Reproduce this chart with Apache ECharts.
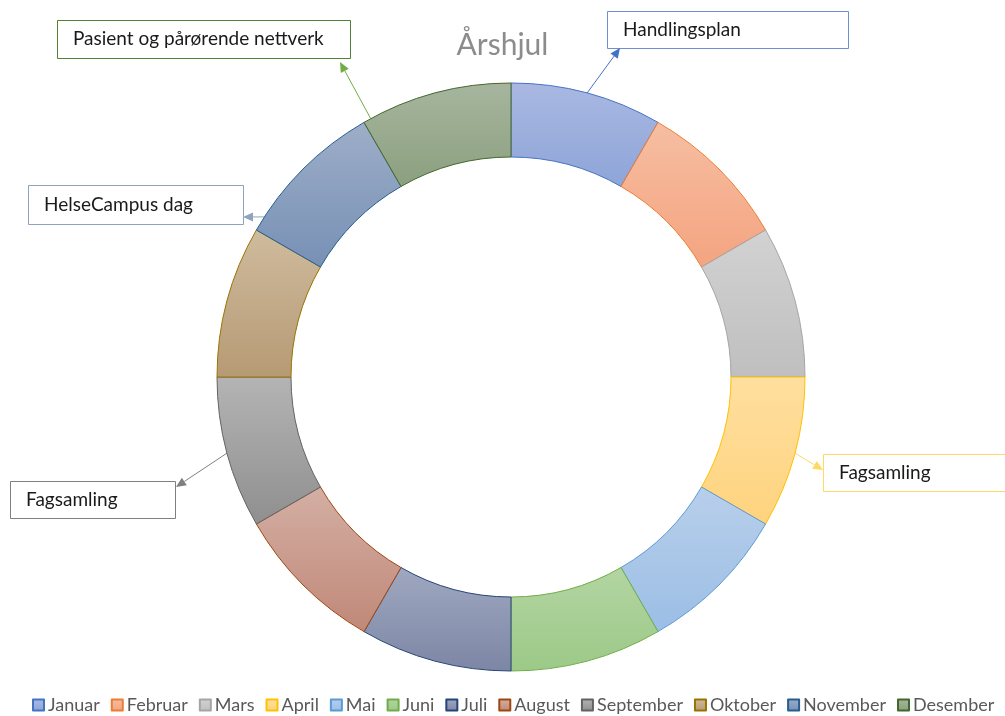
<!DOCTYPE html>
<html lang="no">
<head>
    <meta charset="UTF-8">
    <title>Årshjul</title>
    <script src="https://cdn.jsdelivr.net/npm/echarts@6/dist/echarts.min.js"></script>
    <style>
        html, body { margin: 0; padding: 0; background: #fff; }
        #chart { width: 1005px; height: 716px; }
    </style>
</head>
<body>
<div id="chart"></div>
<script type="text/javascript">
    // data
    var months = ['Januar', 'Februar', 'Mars', 'April', 'Mai', 'Juni', 'Juli', 'August', 'September', 'Oktober', 'November', 'Desember'];
    var values = [1, 1, 1, 1, 1, 1, 1, 1, 1, 1, 1, 1];
    var noteTexts = ['Handlingsplan', 'Fagsamling', 'Fagsamling', 'HelseCampus dag', 'Pasient og pårørende nettverk'];
    var noteMonths = [0, 3, 8, 10, 11];

    // styles
    var borderColors = ['#4472C4', '#ED7D31', '#A5A5A5', '#FFC000', '#5B9BD5', '#70AD47', '#264478', '#9E480E', '#636363', '#997300', '#255E91', '#43682B'];
    var topColors = ['#A9B8E2', '#F6BEA2', '#D2D2D2', '#FFDF9F', '#B8CFEB', '#B3D5A2', '#A0A8C0', '#D4AFA4', '#B4B4B4', '#CFBB9E', '#9EAEC8', '#A7B59E'];
    var bottomColors = ['#8EA5D8', '#F4A480', '#BFBFBF', '#FED37E', '#9BBEE5', '#9CC988', '#7C86A5', '#C08878', '#8F8F8F', '#B69A74', '#7690B5', '#8BA07F'];

    var CX = 511, CY = 377, R0 = 220, R1 = 294;
    var FONT = 'Lato, "Open Sans", sans-serif';

    var pieData = months.map(function (m, i) {
        return {
            name: m,
            value: values[i],
            itemStyle: {
                color: new echarts.graphic.LinearGradient(0, 0, 0, 1, [
                    {offset: 0, color: topColors[i]},
                    {offset: 1, color: bottomColors[i]}
                ]),
                borderColor: borderColors[i],
                borderWidth: 1
            }
        };
    });

    // callout boxes + arrows
    var notes = [
        {frac: 0.5, box: [607, 11, 241, 37], tip: [620, 48], border: '#6F8FD2', arrow: '#4472C4'},
        {frac: 0.5, box: [823, 454, 190, 37], tip: [823, 470], border: '#FFD966', arrow: '#FFD966'},
        {frac: 0.5, box: [10, 481, 165, 37], tip: [176, 487], border: '#7F7F7F', arrow: '#7F7F7F'},
        {frac: 0.1, box: [28, 185, 215, 39], tip: [243, 217], border: '#8EA3C0', arrow: '#8EA3C0'},
        {frac: 0.05, box: [57, 20, 293, 38], tip: [340, 62], border: '#548235', arrow: '#70AD47'}
    ];

    var total = values.reduce(function (a, b) { return a + b; }, 0);
    var graphics = [];
    notes.forEach(function (n, k) {
        var mi = noteMonths[k];
        var before = 0;
        for (var j = 0; j < mi; j++) before += values[j];
        var ang = (before + values[mi] * n.frac) / total * 2 * Math.PI;
        var sx = CX + R1 * Math.sin(ang), sy = CY - R1 * Math.cos(ang);
        var tx = n.tip[0], ty = n.tip[1];
        var dx = tx - sx, dy = ty - sy, len = Math.sqrt(dx * dx + dy * dy);
        var ux = dx / len, uy = dy / len, hl = 10, hw = 4.5;
        var bx = tx - ux * hl, by = ty - uy * hl;
        graphics.push({
            type: 'rect',
            shape: {x: n.box[0] + 0.5, y: n.box[1] + 0.5, width: n.box[2], height: n.box[3]},
            style: {fill: '#fff', stroke: n.border, lineWidth: 1}
        });
        graphics.push({
            type: 'text',
            x: n.box[0] + 16, y: n.box[1] + n.box[3] / 2,
            style: {text: noteTexts[k], fill: '#1a1a1a', font: '19px ' + FONT, verticalAlign: 'middle'}
        });
        graphics.push({
            type: 'line',
            shape: {x1: sx, y1: sy, x2: bx, y2: by},
            style: {stroke: n.arrow, lineWidth: 1}
        });
        graphics.push({
            type: 'polygon',
            shape: {points: [[tx, ty], [bx - uy * hw, by + ux * hw], [bx + uy * hw, by - ux * hw]]},
            style: {fill: n.arrow}
        });
    });

    var myChart = echarts.init(document.getElementById('chart'));
    var option = {
        animation: false,
        title: {
            text: 'Årshjul',
            left: 'center',
            top: 25,
            textStyle: {color: '#8C8C8C', fontSize: 30, fontWeight: 'normal', fontFamily: FONT}
        },
        legend: {
            top: 691,
            left: 27,
            icon: 'rect',
            itemWidth: 11,
            itemHeight: 11,
            itemGap: 11,
            textStyle: {color: '#595959', fontSize: 18, fontFamily: FONT, padding: [0, 0, 0, -1]},
            data: months
        },
        series: [{
            type: 'pie',
            center: [CX, CY],
            radius: [R0, R1],
            startAngle: 90,
            clockwise: true,
            label: {show: false},
            labelLine: {show: false},
            emphasis: {disabled: true},
            data: pieData
        }],
        graphic: graphics
    };
    myChart.setOption(option);
</script>
</body>
</html>
